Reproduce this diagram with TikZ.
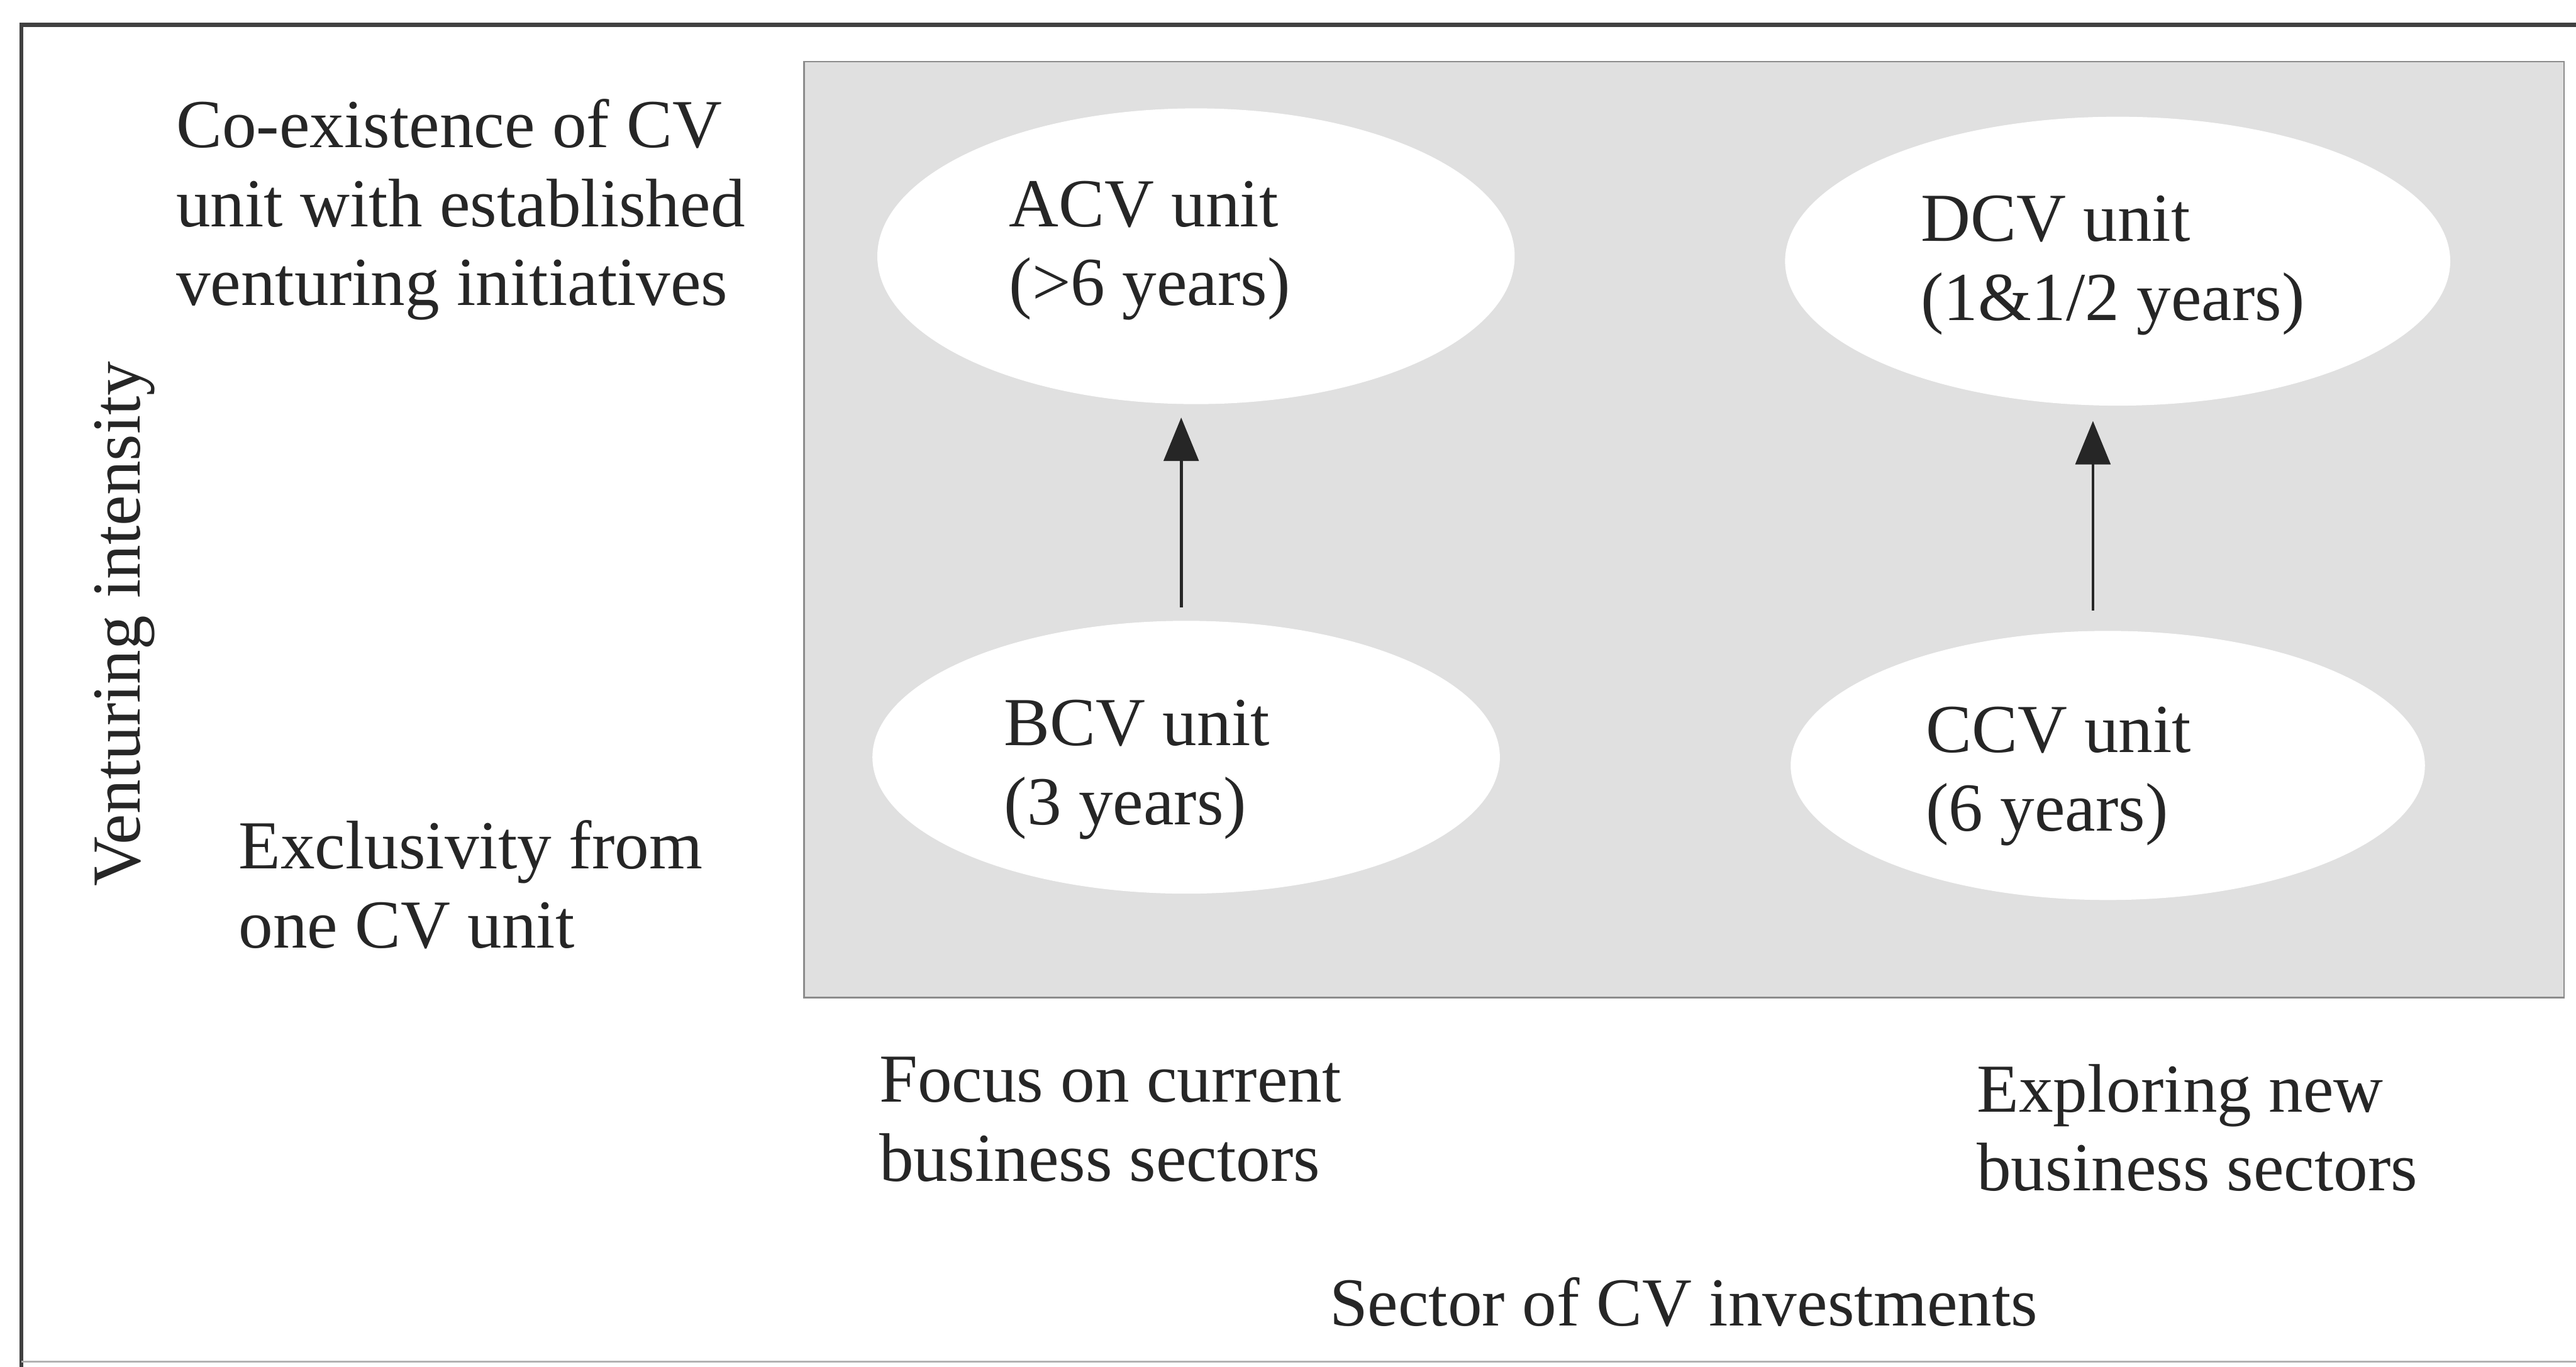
\documentclass[tikz,border=0pt]{standalone}
\usepackage{fontspec}
\setmainfont{Liberation Serif}
\usetikzlibrary{shapes.geometric,arrows.meta}
\begin{document}
\begin{tikzpicture}[x=0.02655cm,y=-0.02655cm,
  txt/.style={font=\fontsize{31.6}{36.3}\selectfont, text=black!85, inner sep=0pt, align=left, anchor=base west},
  unit/.style={ellipse, fill=white, draw=none, inner sep=0pt},
  arr/.style={line width=1.4pt, draw=black!85, -{Triangle[length=20pt,width=16pt]}}]
\useasboundingbox (0,0) rectangle (1568,832);
\fill[white] (0,0) rectangle (1568,832);
% outer frame
\draw[line width=2pt, black!75] (1600,15) -- (13,15) -- (13,850);
\draw[line width=0.8pt, black!30] (13,829) -- (1600,829);
% shaded field
\node (field) [draw=black!45, line width=0.8pt, fill=black!12, inner sep=0pt,
  minimum width=28.44cm, minimum height=15.13cm, anchor=north west] at (489,37) {};
% units
\node (Aell) [unit, minimum width=10.30cm, minimum height=4.78cm] at (728,156) {};
\node (Dell) [unit, minimum width=10.75cm, minimum height=4.67cm] at (1289,159) {};
\node (Bell) [unit, minimum width=10.14cm, minimum height=4.41cm] at (722,461) {};
\node (Cell) [unit, minimum width=10.25cm, minimum height=4.35cm] at (1283,466) {};
\node (Atxt) [txt] at (614,186) {ACV unit\\(>6 years)};
\node (Dtxt) [txt] at (1169,195) {DCV unit\\(1\&1/2 years)};
\node (Btxt) [txt] at (611,502) {BCV unit\\(3 years)};
\node (Ctxt) [txt] at (1172,506) {CCV unit\\(6 years)};
% arrows
\coordinate (ABtop) at (Bell.north |- Aell.south);
\coordinate (CDtop) at (Cell.north |- Dell.south);
\draw[arr, shorten <=0.21cm, shorten >=0.21cm] ([xshift=-0.08cm]Bell.north) -- ([xshift=-0.08cm]ABtop);
\draw[arr, shorten <=0.32cm, shorten >=0.24cm] ([xshift=-0.24cm]Cell.north) -- ([xshift=-0.24cm]CDtop);
% axis labels
\node (coex) [txt] at (107,186) {Co-existence of CV\\unit with established\\venturing initiatives};
\node (excl) [txt] at (145,577) {Exclusivity from\\one CV unit};
\node (vint) [txt, anchor=base, rotate=90] at (85,380) {Venturing intensity};
\node (focus) [txt] at (535,719) {Focus on current\\business sectors};
\node (expl) [txt] at (1203,725) {Exploring new\\business sectors};
\node (sect) [txt] at (809,807) {Sector of CV investments};
\end{tikzpicture}
\end{document}
